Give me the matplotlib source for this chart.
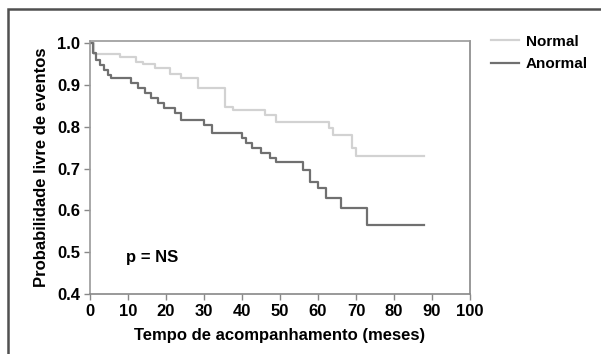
import matplotlib.pyplot as plt
from matplotlib.patches import Rectangle

plt.rcParams['font.family'] = ['Liberation Sans', 'DejaVu Sans']
plt.rcParams['font.weight'] = 'bold'

# Kaplan-Meier step data (months, survival)
t_normal = [0, 1, 8, 12, 14, 17, 21, 24, 28.4, 35.5, 37.5, 46, 49, 63, 64, 69, 70, 88]
s_normal = [1.0, 0.975, 0.967, 0.955, 0.95, 0.94, 0.925, 0.917, 0.893, 0.848, 0.84,
            0.828, 0.812, 0.797, 0.78, 0.75, 0.73, 0.73]

t_anormal = [0, 0.8, 1.6, 2.6, 3.7, 4.7, 5.5, 10.9, 12.6, 14.4, 16.1, 17.9, 19.6, 22.3,
             24, 30, 32, 40, 41, 42.6, 45, 47.4, 49, 56, 58, 60, 62, 66, 73, 88]
s_anormal = [1.0, 0.976, 0.96, 0.947, 0.935, 0.923, 0.916, 0.904, 0.892, 0.88, 0.868,
             0.856, 0.845, 0.833, 0.816, 0.804, 0.785, 0.773, 0.761, 0.749, 0.737,
             0.725, 0.715, 0.696, 0.667, 0.653, 0.629, 0.605, 0.565, 0.565]

x_ticks = list(range(0, 101, 10))
y_ticks = [0.4, 0.5, 0.6, 0.7, 0.8, 0.9, 1.0]

fig = plt.figure(figsize=(6.01, 3.54), dpi=100)
ax = fig.add_axes([90 / 601, 1 - 294 / 354, 380 / 601, 253 / 354])

ax.step(t_normal, s_normal, where='post', color='#d2d2d2', lw=1.6, label='Normal')
ax.step(t_anormal, s_anormal, where='post', color='#707070', lw=1.6, label='Anormal')

ax.set_xlim(0, 100)
ax.set_ylim(0.4, 1.005)
ax.set_xticks(x_ticks)
ax.set_yticks(y_ticks)
ax.set_yticklabels([f'{v:.1f}' for v in y_ticks])
ax.tick_params(labelsize=12, length=4, width=1, color='#888888', pad=3)

for name, sp in ax.spines.items():
    sp.set_color('#9a9a9a' if name in ('top', 'left') else '#888888')
    sp.set_linewidth(1.2)

ax.set_xlabel('Tempo de acompanhamento (meses)', fontsize=12, fontweight='bold', labelpad=7)
ax.set_ylabel('Probabilidade livre de eventos', fontsize=12, fontweight='bold', labelpad=6)

ax.text(9.5, 0.476, 'p = NS', fontsize=12, fontweight='bold', va='baseline')

ax.legend(loc='upper left', bbox_to_anchor=(1.02, 1.08), frameon=False, fontsize=11,
          handlelength=1.8, handletextpad=0.45, labelspacing=0.55)

# outer frame (cut off at right and bottom in the original)
fig.add_artist(Rectangle((8 / 601, -0.2), 1.2, 1.2 - 9 / 354, transform=fig.transFigure,
                         fill=False, edgecolor='#505050', lw=1.8))

fig.savefig('out.png', dpi=100)
